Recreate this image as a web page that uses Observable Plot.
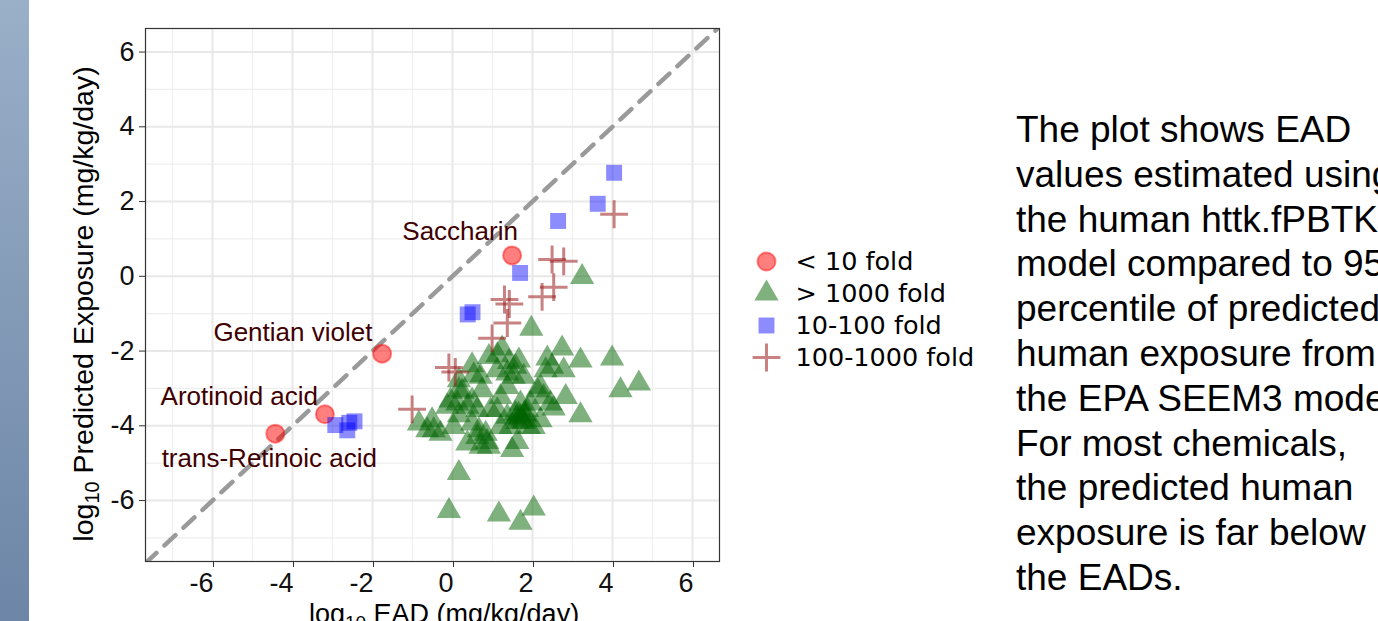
<!DOCTYPE html>
<html><head><meta charset="utf-8">
<script src="https://cdn.jsdelivr.net/npm/d3@7"></script>
<script src="https://cdn.jsdelivr.net/npm/@observablehq/plot@0.6"></script>
<style>
html,body{margin:0;padding:0;background:#fff;width:1378px;height:621px;overflow:hidden;}
body{position:relative;}
#bar{position:absolute;left:0;top:0;width:29px;height:621px;background:linear-gradient(#9AAFC8,#6D86A7);}
#chart{position:absolute;left:0;top:0;}
#legend{position:absolute;left:740px;top:240px;}
#note{position:absolute;left:1016px;top:108px;font-family:"Liberation Sans",Arial,sans-serif;font-size:37px;line-height:44.8px;color:#000;white-space:nowrap;}
</style></head><body>
<div id="chart"></div><div id="bar"></div><div id="legend"></div><div id="note"></div>
<script>
// ---- data ----
const groups = ["< 10 fold", "> 1000 fold", "10-100 fold", "100-1000 fold"];
const majorTicks = [-6, -4, -2, 0, 2, 4, 6];
const minorTicks = [-7, -5, -3, -1, 1, 3, 5];

// < 10 fold (labelled chemicals)
const circleNames = ["Saccharin", "Gentian violet", "Arotinoid acid", "trans-Retinoic acid"];
const circleX = [1.49, -1.76, -3.19, -4.43];
const circleY = [0.56, -2.07, -3.69, -4.21];
const labelX = [0.19, -3.99, -5.33, -4.58];
const labelY = [1.20, -1.50, -3.21, -4.89];

// 10-100 fold
const squareX = [4.04, 3.63, 2.64, 1.69, 0.38, 0.50, -2.93, -2.63, -2.45, -2.58];
const squareY = [2.77, 1.94, 1.48, 0.09, -1.02, -0.96, -3.98, -4.12, -3.88, -3.92];

// 100-1000 fold
const plusX = [4.04, 2.49, 2.78, 2.53, 2.24, 1.30, 1.42, 1.37, 0.99, -0.09, 0.07, -1.01];
const plusY = [1.66, 0.45, 0.40, -0.29, -0.55, -0.62, -0.74, -1.25, -1.66, -2.44, -2.56, -3.56];

// > 1000 fold
const triX = [1.97, 3.99, 3.20, 2.74, 2.37, 2.78, 2.49, 4.66, 4.20, 3.20, 2.83, 2.20, 2.45, 2.53,
  1.70, 1.65, 1.75, 1.60, 1.80, 1.49, 1.62, 2.03, 2.20,
  0.16, -0.09, 1.16, 1.70, 2.03,
  -0.84, -0.51, -0.30, -0.63, 0.03, 0.37, 0.70, 0.87, 0.83, 0.66, 0.49, 0.16, 0.12, 0.16, 0.16,
  0.49, 0.70, 0.74, 0.49, 0.91, 1.12, 1.24, 1.41, 1.57, 1.66, 1.78, 1.37, 1.20, 1.12, 1.37, 1.45,
  1.20, 0.95, 0.62, 0.37, -0.05, -0.13, 1.87, 1.95, 2.12, 2.28, 0.24, 0.62, 0.91, 0.53, 1.12,
  1.37, 1.53, -0.47, 1.78, 1.62, 1.91, 1.57, 1.82, 1.70, 3.24, 2.33];
const triY = [-1.40, -2.20, -2.25, -1.93, -2.20, -2.51, -2.42, -2.87, -3.05, -3.72, -3.23, -2.96, -3.40, -3.54,
  -3.76, -3.70, -3.85, -3.80, -3.68, -4.65, -4.43, -4.03, -3.85,
  -5.26, -6.28, -6.37, -6.59, -6.21,
  -3.94, -3.85, -4.21, -4.12, -4.03, -4.47, -4.56, -4.43, -4.21, -4.12, -3.94, -3.72, -3.40, -3.05, -2.78,
  -2.38, -2.69, -3.05, -3.32, -2.16, -2.11, -1.93, -2.29, -2.42, -2.25, -2.69, -2.96, -3.23, -3.58, -3.76, -4.03,
  -4.03, -3.58, -3.58, -3.49, -3.32, -3.49, -3.58, -3.40, -3.05, -3.23, -3.09, -4.30, -4.56, -2.65, -2.51,
  -2.60, -2.69, -4.12, -3.90, -3.90, -4.03, -3.67, -3.72, -3.40, -0.02, -2.51];

const noteLines = ["The plot shows EAD", "values estimated using", "the human httk.fPBTK",
  "model compared to 95th", "percentile of predicted", "human exposure from",
  "the EPA SEEM3 model.", "For most chemicals,", "the predicted human",
  "exposure is far below", "the EADs."];

// ---- build tables ----
const zipXY = (xs, ys) => xs.map((x, i) => ({x, y: ys[i]}));
const circles = circleX.map((x, i) => ({x, y: circleY[i], name: circleNames[i]}));
const labels = labelX.map((x, i) => ({x, y: labelY[i], name: circleNames[i]}));
const squares = zipXY(squareX, squareY);
const pluses = zipXY(plusX, plusY);
const tris = zipXY(triX, triY);
const xDomain = [-7.675, 6.675];
const yDomain = [-7.63, 6.63];
const identity = xDomain.map(v => ({x: v, y: v}));

const styleOf = {
  "< 10 fold": {symbol: "circle", r: 9, fill: "#FF0000", fillOpacity: 0.5, stroke: "#FF0000", strokeOpacity: 0.45, strokeWidth: 2},
  "> 1000 fold": {symbol: "triangle", r: 9, fill: "#006400", fillOpacity: 0.5, stroke: "none"},
  "10-100 fold": {symbol: "square", r: 9, fill: "#0000FF", fillOpacity: 0.45, stroke: "none"},
  "100-1000 fold": {symbol: "plus", r: 9, fill: "none", stroke: "#9B1B1B", strokeOpacity: 0.55, strokeWidth: 3}
};

const font = "'Liberation Sans', Arial, sans-serif";
const chart = Plot.plot({
  width: 740, height: 621,
  marginLeft: 145, marginRight: 21, marginTop: 28, marginBottom: 60,
  style: {fontFamily: font, fontSize: "27px", color: "#111", background: "transparent", overflow: "visible"},
  x: {domain: xDomain},
  y: {domain: yDomain},
  marks: [
    Plot.ruleX(minorTicks, {stroke: "#EEEEEE", strokeWidth: 1.2}),
    Plot.ruleY(minorTicks, {stroke: "#EEEEEE", strokeWidth: 1.2}),
    Plot.ruleX(majorTicks, {stroke: "#E8E8E8", strokeWidth: 2}),
    Plot.ruleY(majorTicks, {stroke: "#E8E8E8", strokeWidth: 2}),
    Plot.line(identity, {x: "x", y: "y", stroke: "#9A9A9A", strokeWidth: 4.5, strokeDasharray: "15,11", clip: true}),
    Plot.dot(tris, {x: "x", y: "y", ...styleOf["> 1000 fold"]}),
    Plot.dot(circles, {x: "x", y: "y", ...styleOf["< 10 fold"]}),
    Plot.dot(squares, {x: "x", y: "y", ...styleOf["10-100 fold"]}),
    Plot.dot(pluses, {x: "x", y: "y", ...styleOf["100-1000 fold"]}),
    Plot.text(labels, {x: "x", y: "y", text: "name", fill: "#3F0000", fontSize: 26, textAnchor: "middle", lineAnchor: "middle"}),
    Plot.frame({stroke: "#333", strokeWidth: 1.2}),
    Plot.axisX({ticks: majorTicks, tickFormat: d => String(d), tickSize: 6, tickPadding: 5, stroke: "#333", fill: "#111", label: null, textAnchor: "end", dx: 1}),
    Plot.axisY({ticks: majorTicks, tickFormat: d => String(d), tickSize: 6, tickPadding: 5, stroke: "#333", fill: "#111", label: null})
  ]
});
document.getElementById("chart").appendChild(chart);

// axis titles with subscript
const svg = d3.select(chart);
function subLabel(sel, big, sub, rest, subSize, shift) {
  sel.append("tspan").text(big);
  sel.append("tspan").attr("font-size", subSize).attr("dy", shift).text(sub);
  sel.append("tspan").attr("dy", -shift).text(rest);
}
subLabel(svg.append("text").attr("transform", "translate(93,304) rotate(-90)")
  .attr("text-anchor", "middle").attr("font-size", 28.5).attr("fill", "#000"),
  "log", "10", " Predicted Exposure (mg/kg/day)", 20, 6);
subLabel(svg.append("text").attr("transform", "translate(444,623)")
  .attr("text-anchor", "middle").attr("font-size", 27).attr("fill", "#000"),
  "log", "10", " EAD (mg/kg/day)", 19, 6);

// legend
const legendMarks = groups.map(g => Plot.dot([g], {x: () => 0, y: d => d, ...styleOf[g]}));
const legend = Plot.plot({
  width: 250, height: 135, margin: 0,
  x: {domain: [0, 1], range: [26, 250], axis: null},
  y: {type: "point", domain: groups, range: [21, 117], padding: 0, axis: null},
  style: {fontFamily: "'DejaVu Sans', sans-serif", fontSize: "25.5px", background: "transparent"},
  marks: [
    ...legendMarks,
    Plot.text(groups, {x: () => 0, y: d => d, text: d => d, dx: 29, textAnchor: "start", fill: "#000", fontSize: 25.5})
  ]
});
document.getElementById("legend").appendChild(legend);

// explanatory text
const note = document.getElementById("note");
noteLines.forEach(t => { const d = document.createElement("div"); d.textContent = t; note.appendChild(d); });
</script>
</body></html>
